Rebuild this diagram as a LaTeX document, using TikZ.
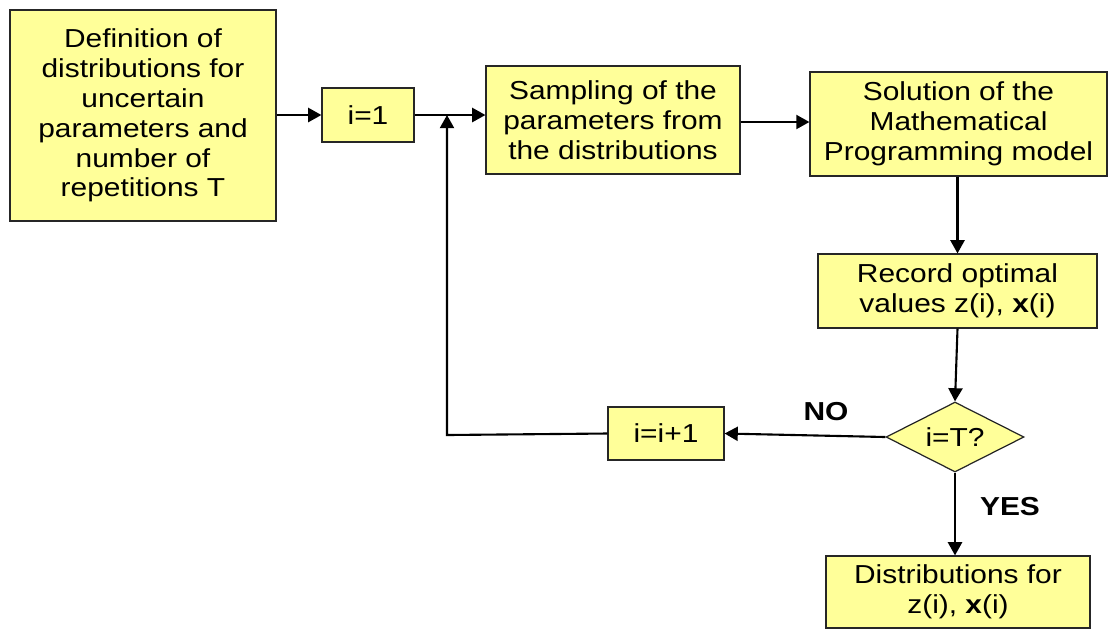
\documentclass[tikz,border=0pt]{standalone}
\usepackage{fontspec}
\setmainfont[FakeStretch=1.15]{Liberation Sans}
\usepackage{tikz}
\usetikzlibrary{arrows.meta,shapes.geometric,positioning}

\definecolor{boxfill}{HTML}{FFFF99}

\begin{document}
\begin{tikzpicture}[x=0.02cm, y=-0.02cm,
    every node/.style={font=\fontsize{14.8}{17}\selectfont},
    stage/.style={draw=black!85, fill=boxfill, line width=0.7pt, align=center, inner sep=0pt},
    check/.style={diamond, draw=black!85, fill=boxfill, line width=0.7pt, inner sep=0pt, aspect=2},
    flow/.style={draw, line width=1.2pt, -{Triangle[length=7.5pt,width=8pt]}},
    answer/.style={font=\fontsize{14.8}{17}\selectfont\bfseries}]
  \useasboundingbox (0,0) rectangle (1111,630);

  \node[stage, minimum width=5.32cm, minimum height=4.22cm] (defn) at (143,115.5)
    {Definition of\\distributions for\\uncertain\\parameters and\\number of\\repetitions T};
  \node[stage, minimum width=1.84cm, minimum height=1.08cm] (one) at (368,115) {i=1};
  \node[stage, minimum width=5.08cm, minimum height=2.16cm] (sample) at (613,120)
    {Sampling of the\\parameters from\\the distributions};
  \node[stage, minimum width=5.94cm, minimum height=2.08cm] (solve) at (958.5,124)
    {Solution of the\\Mathematical\\Programming model};
  \node[stage, minimum width=5.58cm, minimum height=1.48cm] (record) at (957.5,291)
    {Record optimal\\values z(i), \textbf{x}(i)};
  \node[check, minimum width=2.76cm, minimum height=1.4cm] (test) at (955,437) {i=T?};
  \node[stage, minimum width=2.32cm, minimum height=1.06cm] (incr) at (666,433.5) {i=i+1};
  \node[stage, minimum width=5.28cm, minimum height=1.44cm] (dist) at (958,592)
    {Distributions for\\z(i), \textbf{x}(i)};

  \node[answer] (no) at (826,412) {NO};
  \node[answer] (yes) at (1010,507) {YES};

  \coordinate (join) at (447,115);
  \coordinate (back) at (447,435);

  \path
    (defn.east |- one) edge[flow] (one.west)
    (one.east) edge[flow] (sample.west |- one)
    (sample.east |- 0,122) edge[flow] (solve.west |- 0,122)
    (solve.south -| record) edge[flow] (record.north)
    (record.south) edge[flow] (test.north)
    (test.west) edge[flow] (incr.east)
    (test.south) edge[flow] (dist.north -| test.south);

  \draw[flow] (incr.west) -- (back) -- (join);
\end{tikzpicture}
\end{document}
